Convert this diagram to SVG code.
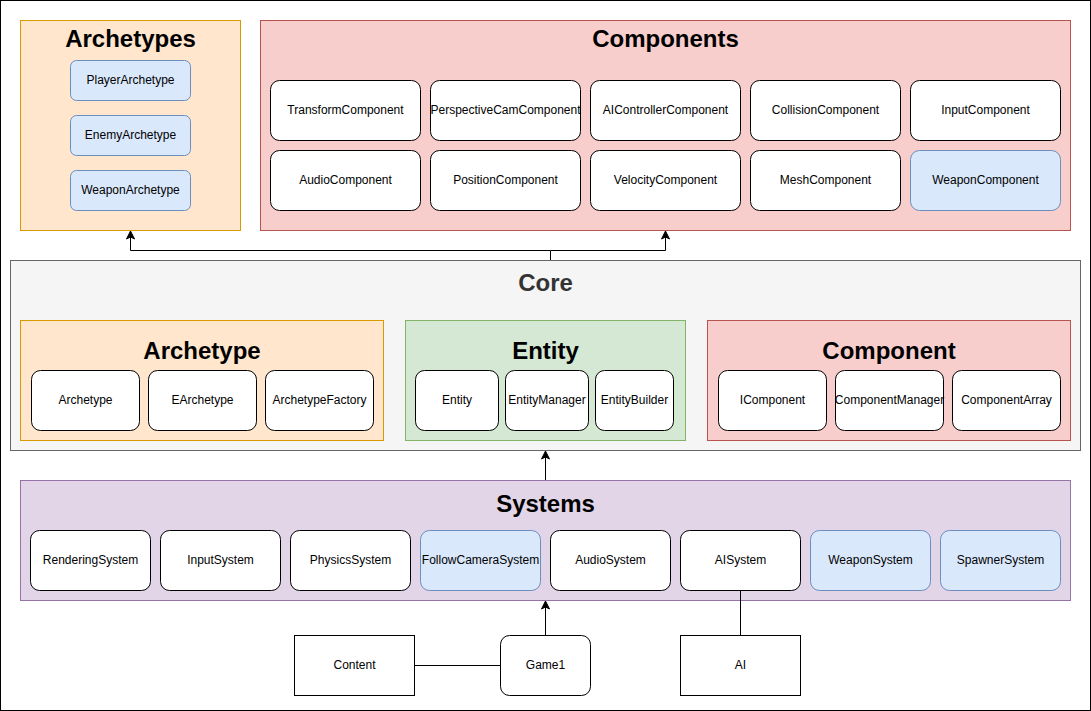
<svg xmlns="http://www.w3.org/2000/svg" width="1091" height="711" viewBox="0 0 1091 711">
<defs>
<style>
.t{font-family:"Liberation Sans",Arial,Helvetica,sans-serif;font-size:12px;fill:#000;text-anchor:middle}
.h{font-family:"Liberation Sans",Arial,Helvetica,sans-serif;font-size:24px;font-weight:bold;fill:#000;text-anchor:middle}
.n{fill:#fff;stroke:#000;stroke-width:1}
.b{fill:#dae8fc;stroke:#6c8ebf;stroke-width:1}
.sq{fill:#fff;stroke:#000;stroke-width:1}
.orange{fill:#ffe6cc;stroke:#d79b00;stroke-width:1}
.red{fill:#f8cecc;stroke:#b85450;stroke-width:1}
.green{fill:#d5e8d4;stroke:#82b366;stroke-width:1}
.gray{fill:#f5f5f5;stroke:#666666;stroke-width:1}
.purple{fill:#e1d5e7;stroke:#9673a6;stroke-width:1}
.c{fill:none;stroke:#000;stroke-width:1}
</style>
<marker id="arr" markerUnits="userSpaceOnUse" markerWidth="10" markerHeight="10" viewBox="0 0 10 10" refX="9" refY="5" orient="auto">
<path d="M1,1 L9,5 L1,9 L3,5 Z" fill="#000" stroke="#000" stroke-width="1"/>
</marker>
</defs>
<rect x="0.5" y="0.5" width="1090" height="710" fill="#fff" stroke="#000" stroke-width="1"/>

<g id="archetypes">
<rect class="orange" x="20.5" y="20.5" width="220" height="210"/>
<text class="h" x="130.5" y="47">Archetypes</text>
</g>
<g id="player-archetype"><rect class="b" x="70.5" y="60.5" width="120" height="40" rx="6"/><text class="t" x="130.5" y="84">PlayerArchetype</text></g>
<g id="enemy-archetype"><rect class="b" x="70.5" y="115.5" width="120" height="40" rx="6"/><text class="t" x="130.5" y="139">EnemyArchetype</text></g>
<g id="weapon-archetype"><rect class="b" x="70.5" y="170.5" width="120" height="40" rx="6"/><text class="t" x="130.5" y="194">WeaponArchetype</text></g>

<g id="components">
<rect class="red" x="260.5" y="20.5" width="810" height="210"/>
<text class="h" x="665.5" y="47">Components</text>
</g>
<g id="transform-component"><rect class="n" x="270.5" y="80.5" width="150" height="60" rx="9"/><text class="t" x="345.5" y="114">TransformComponent</text></g>
<g id="perspectivecam-component"><rect class="n" x="430.5" y="80.5" width="150" height="60" rx="9"/><text class="t" x="505.5" y="114">PerspectiveCamComponent</text></g>
<g id="aicontroller-component"><rect class="n" x="590.5" y="80.5" width="150" height="60" rx="9"/><text class="t" x="665.5" y="114">AIControllerComponent</text></g>
<g id="collision-component"><rect class="n" x="750.5" y="80.5" width="150" height="60" rx="9"/><text class="t" x="825.5" y="114">CollisionComponent</text></g>
<g id="input-component"><rect class="n" x="910.5" y="80.5" width="150" height="60" rx="9"/><text class="t" x="985.5" y="114">InputComponent</text></g>
<g id="audio-component"><rect class="n" x="270.5" y="150.5" width="150" height="60" rx="9"/><text class="t" x="345.5" y="184">AudioComponent</text></g>
<g id="position-component"><rect class="n" x="430.5" y="150.5" width="150" height="60" rx="9"/><text class="t" x="505.5" y="184">PositionComponent</text></g>
<g id="velocity-component"><rect class="n" x="590.5" y="150.5" width="150" height="60" rx="9"/><text class="t" x="665.5" y="184">VelocityComponent</text></g>
<g id="mesh-component"><rect class="n" x="750.5" y="150.5" width="150" height="60" rx="9"/><text class="t" x="825.5" y="184">MeshComponent</text></g>
<g id="weapon-component"><rect class="b" x="910.5" y="150.5" width="150" height="60" rx="9"/><text class="t" x="985.5" y="184">WeaponComponent</text></g>

<g id="core">
<rect class="gray" x="10.5" y="260.5" width="1070" height="190"/>
<text class="h" x="545.5" y="291" style="fill:#333333">Core</text>
</g>
<g id="core-archetype">
<rect class="orange" x="20.5" y="320.5" width="363" height="120"/>
<text class="h" x="202" y="359">Archetype</text>
</g>
<g id="archetype"><rect class="n" x="31.5" y="370.5" width="108" height="60" rx="9"/><text class="t" x="85.5" y="404">Archetype</text></g>
<g id="earchetype"><rect class="n" x="148.5" y="370.5" width="108" height="60" rx="9"/><text class="t" x="202.5" y="404">EArchetype</text></g>
<g id="archetype-factory"><rect class="n" x="265.5" y="370.5" width="108" height="60" rx="9"/><text class="t" x="319.5" y="404">ArchetypeFactory</text></g>

<g id="core-entity">
<rect class="green" x="405.5" y="320.5" width="280" height="120"/>
<text class="h" x="545.5" y="359">Entity</text>
</g>
<g id="entity"><rect class="n" x="415.5" y="370.5" width="83" height="60" rx="9"/><text class="t" x="457" y="404">Entity</text></g>
<g id="entity-manager"><rect class="n" x="505.5" y="370.5" width="83" height="60" rx="9"/><text class="t" x="547" y="404">EntityManager</text></g>
<g id="entity-builder"><rect class="n" x="595.5" y="370.5" width="78" height="60" rx="9"/><text class="t" x="634.5" y="404">EntityBuilder</text></g>

<g id="core-component">
<rect class="red" x="707.5" y="320.5" width="363" height="120"/>
<text class="h" x="889" y="359">Component</text>
</g>
<g id="icomponent"><rect class="n" x="718.5" y="370.5" width="108" height="60" rx="9"/><text class="t" x="772.5" y="404">IComponent</text></g>
<g id="component-manager"><rect class="n" x="835.5" y="370.5" width="108" height="60" rx="9"/><text class="t" x="889.5" y="404">ComponentManager</text></g>
<g id="component-array"><rect class="n" x="952.5" y="370.5" width="108" height="60" rx="9"/><text class="t" x="1006.5" y="404">ComponentArray</text></g>

<g id="systems">
<rect class="purple" x="20.5" y="480.5" width="1050" height="120"/>
<text class="h" x="545.5" y="512">Systems</text>
</g>
<g id="rendering-system"><rect class="n" x="30.5" y="530.5" width="120" height="60" rx="9"/><text class="t" x="90.5" y="564">RenderingSystem</text></g>
<g id="input-system"><rect class="n" x="160.5" y="530.5" width="120" height="60" rx="9"/><text class="t" x="220.5" y="564">InputSystem</text></g>
<g id="physics-system"><rect class="n" x="290.5" y="530.5" width="120" height="60" rx="9"/><text class="t" x="350.5" y="564">PhysicsSystem</text></g>
<g id="followcamera-system"><rect class="b" x="420.5" y="530.5" width="120" height="60" rx="9"/><text class="t" x="480.5" y="564">FollowCameraSystem</text></g>
<g id="audio-system"><rect class="n" x="550.5" y="530.5" width="120" height="60" rx="9"/><text class="t" x="610.5" y="564">AudioSystem</text></g>
<g id="ai-system"><rect class="n" x="680.5" y="530.5" width="120" height="60" rx="9"/><text class="t" x="740.5" y="564">AISystem</text></g>
<g id="weapon-system"><rect class="b" x="810.5" y="530.5" width="120" height="60" rx="9"/><text class="t" x="870.5" y="564">WeaponSystem</text></g>
<g id="spawner-system"><rect class="b" x="940.5" y="530.5" width="120" height="60" rx="9"/><text class="t" x="1000.5" y="564">SpawnerSystem</text></g>

<g id="content"><rect class="sq" x="294.5" y="635.5" width="120" height="60"/><text class="t" x="354.5" y="669">Content</text></g>
<g id="game1"><rect class="n" x="500.5" y="635.5" width="90" height="60" rx="9"/><text class="t" x="545.5" y="669">Game1</text></g>
<g id="ai"><rect class="sq" x="680.5" y="635.5" width="120" height="60"/><text class="t" x="740.5" y="669">AI</text></g>

<g id="connectors">
<path class="c" d="M550.5,260 L550.5,250.5 L130.5,250.5 L130.5,231" marker-end="url(#arr)"/>
<path class="c" d="M550.5,250.5 L665.5,250.5 L665.5,231" marker-end="url(#arr)"/>
<path class="c" d="M545.5,480 L545.5,451" marker-end="url(#arr)"/>
<path class="c" d="M545.5,635 L545.5,601" marker-end="url(#arr)"/>
<path class="c" d="M414.5,665.5 L500.5,665.5"/>
<path class="c" d="M740.5,635 L740.5,591"/>
</g>
</svg>
